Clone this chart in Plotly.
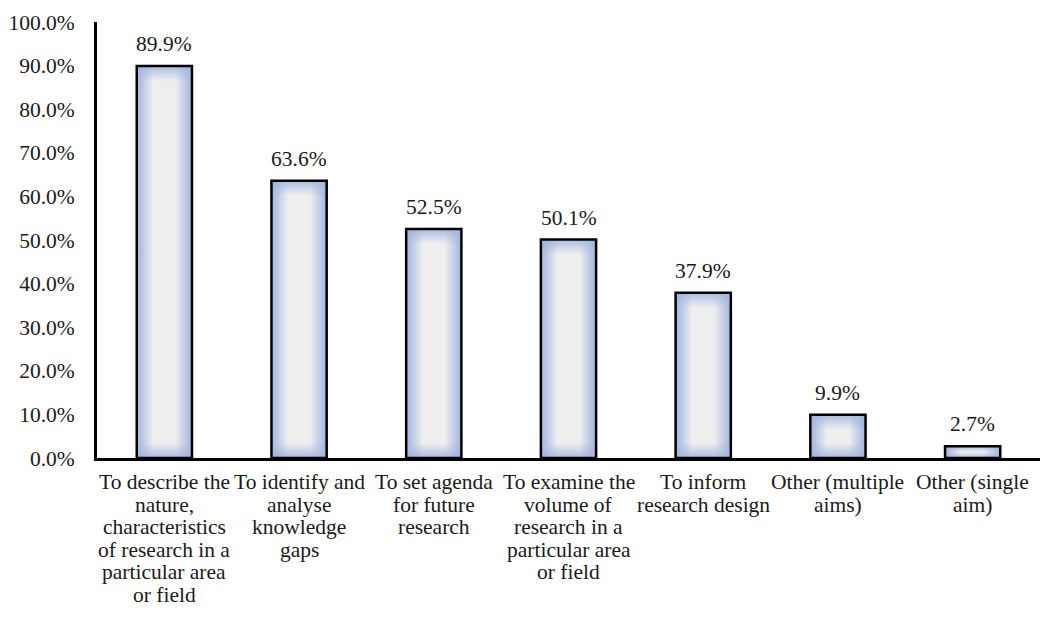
import plotly.graph_objects as go

categories = [
    "To describe the<br>nature,<br>characteristics<br>of research in a<br>particular area<br>or field",
    "To identify and<br>analyse<br>knowledge<br>gaps",
    "To set agenda<br>for future<br>research",
    "To examine the<br>volume of<br>research in a<br>particular area<br>or field",
    "To inform<br>research design",
    "Other (multiple<br>aims)",
    "Other (single<br>aim)",
]
values = [89.9, 63.6, 52.5, 50.1, 37.9, 9.9, 2.7]
y_ticks = [0, 10, 20, 30, 40, 50, 60, 70, 80, 90, 100]

FONT = "Liberation Serif"
FONT_SIZE = 21.5
TEXT_COLOR = "#1a1a1a"
HALF_W = 0.205
LINE_GAP = 22.6      # px between wrapped category label lines
PLOT_H = 618 - 22 - 160
EDGE_BAND = 15       # px over which the bar edge tint fades out

EDGE = "#A0B4DF"
CENTRE = "#EEEEEF"

fig = go.Figure()

# bars: horizontal edge-to-centre shading, then a top/bottom tint overlay
for i, v in enumerate(values):
    xs = [i - HALF_W, i + HALF_W, i + HALF_W, i - HALF_W, i - HALF_W]
    ys = [0, 0, v, v, 0]
    fig.add_trace(go.Scatter(
        x=xs, y=ys, mode="lines", fill="toself",
        fillgradient=dict(type="horizontal",
                          colorscale=[[0, EDGE], [0.3, CENTRE], [0.7, CENTRE], [1, EDGE]]),
        line=dict(width=0, color="rgba(0,0,0,0)"),
        hoverinfo="skip", showlegend=False,
    ))
    f = min(0.5, EDGE_BAND / (v / 100 * PLOT_H))
    fig.add_trace(go.Scatter(
        x=xs, y=ys, mode="lines", fill="toself",
        fillgradient=dict(type="vertical",
                          colorscale=[[0, "rgba(160,180,223,0.85)"],
                                      [f, "rgba(160,180,223,0)"],
                                      [1 - f, "rgba(160,180,223,0)"],
                                      [1, "rgba(160,180,223,0.85)"]]),
        line=dict(color="black", width=2.5),
        hoverinfo="skip", showlegend=False,
    ))

annotations = []

# value labels above the bars
for i, v in enumerate(values):
    annotations.append(dict(
        x=i, y=v, xref="x", yref="y",
        text=f"{v:.1f}%", showarrow=False,
        xanchor="center", yanchor="middle", yshift=22,
        font=dict(family=FONT, size=FONT_SIZE, color=TEXT_COLOR),
    ))

# wrapped category labels, one annotation per line for tighter leading
for i, cat in enumerate(categories):
    for k, line in enumerate(cat.split("<br>")):
        annotations.append(dict(
            x=i, xref="x", y=0, yref="paper",
            text=line, showarrow=False,
            xanchor="center", yanchor="middle",
            yshift=-(24 + k * LINE_GAP),
            font=dict(family=FONT, size=FONT_SIZE, color=TEXT_COLOR),
        ))

fig.update_layout(
    width=1062,
    height=618,
    margin=dict(l=97, r=22, t=22, b=160, autoexpand=False),
    paper_bgcolor="white",
    plot_bgcolor="white",
    font=dict(family=FONT, size=FONT_SIZE, color=TEXT_COLOR),
    annotations=annotations,
    xaxis=dict(
        range=[-0.5, len(values) - 0.5],
        tickvals=list(range(len(values))),
        showticklabels=False,
        showgrid=False,
        zeroline=False,
        showline=True,
        linecolor="black",
        linewidth=3,
        ticks="",
        automargin=False,
    ),
    yaxis=dict(
        range=[0, 100],
        tickvals=y_ticks,
        ticktext=[f"{t:.1f}%" for t in y_ticks],
        showgrid=False,
        zeroline=False,
        showline=True,
        linecolor="black",
        linewidth=3,
        ticks="",
        ticklabelstandoff=15,
        automargin=False,
        tickfont=dict(family=FONT, size=FONT_SIZE, color=TEXT_COLOR),
    ),
)

fig.write_html("out.html")
